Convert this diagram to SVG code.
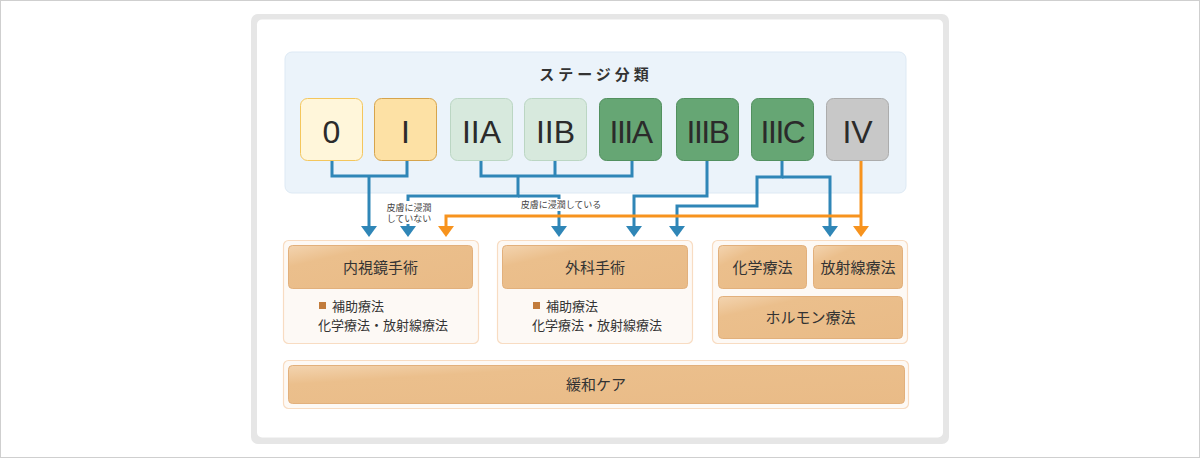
<svg xmlns="http://www.w3.org/2000/svg" width="1200" height="458" viewBox="0 0 1200 458">
<defs>
<style>
.jp{font-family:"Noto Sans CJK JP","Noto Sans",sans-serif;fill:#333}
.stg{font-family:"Liberation Sans",Arial,sans-serif;font-size:32px;fill:#2b2b2b;text-anchor:middle}
.hdr{font-size:15px;text-anchor:middle}
.sm{font-size:13px}
.lbl{font-size:9px;fill:#444;text-anchor:middle}
.blue{fill:none;stroke:#2f86b7;stroke-width:3}
.orange{fill:none;stroke:#f7931e;stroke-width:3}
.outer{fill:#fdf9f5;stroke:#f8dcc2;stroke-width:1.2}
.head{fill:url(#hg);stroke:#e2b07c;stroke-width:1}
</style>
<linearGradient id="hg" x1="0" y1="0" x2="1" y2="1" gradientUnits="objectBoundingBox">
<stop offset="0" stop-color="#f3d4b0"/>
<stop offset="0.25" stop-color="#ebbf8c"/>
<stop offset="1" stop-color="#e9bb87"/>
</linearGradient>
<marker id="ab" markerUnits="userSpaceOnUse" markerWidth="16" markerHeight="16" viewBox="0 0 12 16" refX="2" refY="8" orient="auto">
<path d="M0,0 L11,8 L0,16 z" fill="#2f86b7"/>
</marker>
<marker id="ao" markerUnits="userSpaceOnUse" markerWidth="16" markerHeight="16" viewBox="0 0 12 16" refX="2" refY="8" orient="auto">
<path d="M0,0 L11,8 L0,16 z" fill="#f7931e"/>
</marker>
</defs>
<rect x="0.5" y="0.5" width="1199" height="457" fill="#fff" stroke="#cfcfcf"/>
<rect x="251" y="14" width="698" height="430" rx="7" fill="#e6e6e6"/>
<rect x="257" y="19.5" width="686" height="418" rx="5" fill="#fff"/>
<g id="stage-panel">
<rect x="285" y="52" width="621" height="141" rx="7" fill="#ebf3fa" stroke="#dde9f4"/>
<text class="jp" x="596" y="80" font-size="15" font-weight="bold" text-anchor="middle" letter-spacing="4">ステージ分類</text>
</g>
<g id="stage-0"><rect x="300.5" y="98.5" width="62" height="62" rx="7" fill="#fff6da" stroke="#f4c65c"/><text class="stg" x="331.5" y="143">0</text></g>
<g id="stage-I"><rect x="374.5" y="98.5" width="62" height="62" rx="7" fill="#fde1a5" stroke="#d6a44c"/><text class="stg" x="405.5" y="143">I</text></g>
<g id="stage-IIA"><rect x="450.5" y="98.5" width="62" height="62" rx="7" fill="#d7e9dd" stroke="#bbd6c3"/><text class="stg" x="481.5" y="143">IIA</text></g>
<g id="stage-IIB"><rect x="524.5" y="98.5" width="62" height="62" rx="7" fill="#d7e9dd" stroke="#bbd6c3"/><text class="stg" x="555.5" y="143">IIB</text></g>
<g id="stage-IIIA"><rect x="599.5" y="98.5" width="62" height="62" rx="7" fill="#66a674" stroke="#52905f"/><text class="stg" x="630.5" y="143" letter-spacing="-1.5">IIIA</text></g>
<g id="stage-IIIB"><rect x="676.5" y="98.5" width="62" height="62" rx="7" fill="#66a674" stroke="#52905f"/><text class="stg" x="707.5" y="143" letter-spacing="-1.5">IIIB</text></g>
<g id="stage-IIIC"><rect x="751.5" y="98.5" width="62" height="62" rx="7" fill="#66a674" stroke="#52905f"/><text class="stg" x="782.5" y="143" letter-spacing="-1.5">IIIC</text></g>
<g id="stage-IV"><rect x="826.5" y="98.5" width="62" height="62" rx="7" fill="#c8c8c8" stroke="#acacac"/><text class="stg" x="857.5" y="143">IV</text></g>
<g id="connectors">
<path class="blue" d="M332,161 V176 H407 V161"/>
<path class="blue" d="M369,176 V228" marker-end="url(#ab)"/>
<path class="blue" d="M481,161 V176 H632 V161 M555,161 V176"/>
<path class="blue" d="M518,176 V196 H408 V228" marker-end="url(#ab)"/>
<path class="blue" d="M518,196 H559 V228" marker-end="url(#ab)"/>
<path class="blue" d="M707,161 V196 H634 V228" marker-end="url(#ab)"/>
<path class="blue" d="M782,161 V177 H757 V206 H677 V228" marker-end="url(#ab)"/>
<path class="blue" d="M782,177 H830 V228" marker-end="url(#ab)"/>
<path class="orange" d="M861,161 V228" marker-end="url(#ao)"/>
<path class="orange" d="M861,216 H446 V228" marker-end="url(#ao)"/>
<rect x="384" y="201" width="50" height="23" fill="#fff"/>
<rect x="516" y="199" width="90" height="12" fill="#fff"/>
<text class="jp lbl" x="409" y="210.5">皮膚に浸潤</text>
<text class="jp lbl" x="409" y="221.5">していない</text>
<text class="jp lbl" x="561" y="208">皮膚に浸潤している</text>
</g>
<g id="endoscopic">
<rect class="outer" x="283.5" y="240.5" width="195" height="103" rx="5"/>
<rect class="head" x="288.5" y="245.5" width="184" height="43" rx="4"/>
<text class="jp hdr" x="380.5" y="272.5">内視鏡手術</text>
<rect x="319" y="302" width="7" height="7" fill="#c27c3c"/>
<text class="jp sm" x="332" y="311">補助療法</text>
<text class="jp sm" x="318" y="330">化学療法・放射線療法</text>
</g>
<g id="surgery">
<rect class="outer" x="497.5" y="240.5" width="195" height="103" rx="5"/>
<rect class="head" x="502.5" y="245.5" width="185" height="43" rx="4"/>
<text class="jp hdr" x="595" y="272.5">外科手術</text>
<rect x="533" y="302" width="7" height="7" fill="#c27c3c"/>
<text class="jp sm" x="546" y="311">補助療法</text>
<text class="jp sm" x="532" y="330">化学療法・放射線療法</text>
</g>
<g id="systemic">
<rect class="outer" x="712.5" y="240.5" width="195" height="103" rx="5"/>
<g id="chemo"><rect class="head" x="718.5" y="245.5" width="88" height="43" rx="4"/><text class="jp hdr" x="762.5" y="272.5">化学療法</text></g>
<g id="radiation"><rect class="head" x="813.5" y="245.5" width="89" height="43" rx="4"/><text class="jp hdr" x="858" y="272.5">放射線療法</text></g>
<g id="hormone"><rect class="head" x="718.5" y="296.5" width="184" height="42" rx="4"/><text class="jp hdr" x="810.5" y="323">ホルモン療法</text></g>
</g>
<g id="palliative">
<rect class="outer" x="283.5" y="360.5" width="625" height="48" rx="5"/>
<rect class="head" x="288.5" y="365.5" width="616" height="38" rx="4"/>
<text class="jp hdr" x="596" y="389.5">緩和ケア</text>
</g>
</svg>
